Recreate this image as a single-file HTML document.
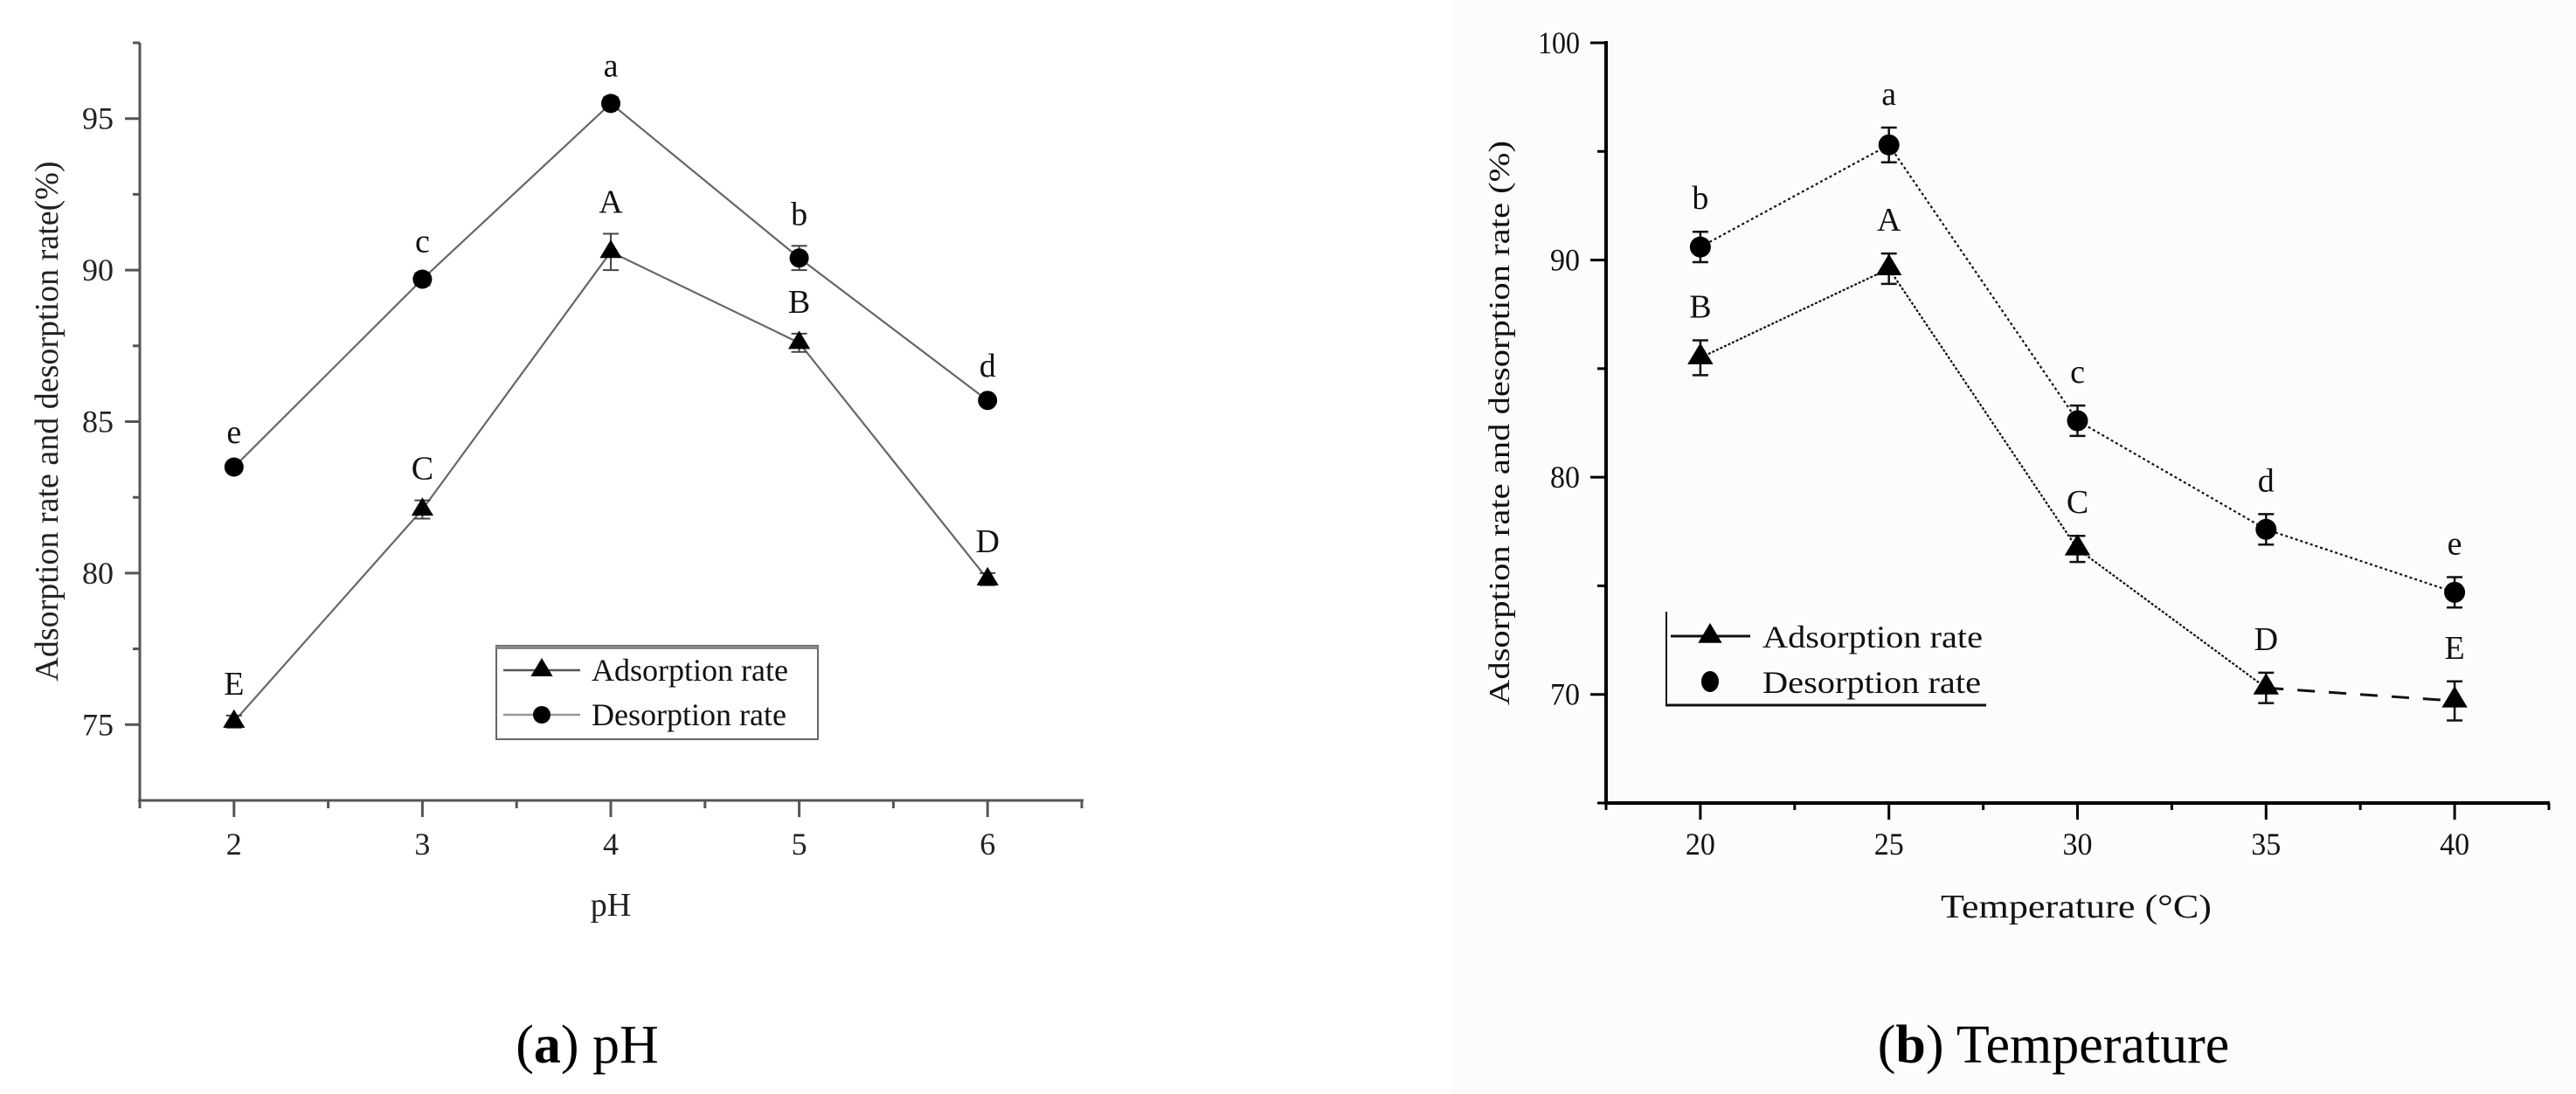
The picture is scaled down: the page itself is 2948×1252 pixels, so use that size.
<!DOCTYPE html>
<html><head><meta charset="utf-8"><style>
html,body{margin:0;padding:0;background:#fff;}
svg{display:block;font-family:"Liberation Serif",serif;}
</style></head><body>
<svg id="fig" width="2948" height="1252" viewBox="0 0 2948 1252" xmlns="http://www.w3.org/2000/svg">
<rect x="1660" y="0" width="1288" height="1252" fill="#fcfcfc"/>
<text x="672" y="1216" font-size="62" text-anchor="middle">(<tspan font-weight="bold">a</tspan>) pH</text>
<text x="2350" y="1216" font-size="62" text-anchor="middle">(<tspan font-weight="bold">b</tspan>) Temperature</text>
</svg>
<script>
// Panel A data (pH)
const phCategories = [2, 3, 4, 5, 6];
const phAdsorption = [75.1, 82.1, 90.6, 87.6, 79.8];
const phDesorption = [83.5, 89.7, 95.5, 90.4, 85.7];
const phAdsErr = [0.2, 0.3, 0.6, 0.3, 0.2];
const phDesErr = [0.1, 0.2, 0.2, 0.4, 0.1];
const phAdsLetters = ["E", "C", "A", "B", "D"];
const phDesLetters = ["e", "c", "a", "b", "d"];
const phYTicks = [75, 80, 85, 90, 95];
const phXTicks = [2, 3, 4, 5, 6];
// Panel B data (Temperature)
const tCategories = [20, 25, 30, 35, 40];
const tAdsorption = [85.5, 89.6, 76.7, 70.3, 69.7];
const tDesorption = [90.6, 95.3, 82.6, 77.6, 74.7];
const tAdsErr = [0.8, 0.7, 0.6, 0.7, 0.9];
const tDesErr = [0.7, 0.8, 0.7, 0.7, 0.7];
const tAdsLetters = ["B", "A", "C", "D", "E"];
const tDesLetters = ["b", "a", "c", "d", "e"];
const tYTicks = [70, 80, 90, 100];
const tXTicks = [20, 25, 30, 35, 40];

const NS = "http://www.w3.org/2000/svg";
const svg = document.getElementById('fig');
function mk(tag, attrs, parent) {
  const e = document.createElementNS(NS, tag);
  for (const k in attrs) e.setAttribute(k, attrs[k]);
  (parent || svg).appendChild(e);
  return e;
}
function lin(d0, d1, r0, r1) { return v => r0 + (v - d0) / (d1 - d0) * (r1 - r0); }
function tri(g, x, y, r, fill) {
  return mk('polygon', {points: `${x},${y - r} ${x - r * 1.05},${y + r * 0.75} ${x + r * 1.05},${y + r * 0.75}`, fill: fill}, g);
}

// ---------- Panel A ----------
(function () {
  const X = lin(1.5, 6.5, 160, 1238);
  const Y = lin(72.5, 97.5, 916, 49);
  const g = mk('g', {});
  
  
  const ax = mk('g', {stroke: '#555', 'stroke-width': 3}, g);
  
  
  mk('line', {x1: 160, y1: 49, x2: 160, y2: 918}, ax);
  mk('line', {x1: 158, y1: 916, x2: 1240, y2: 916}, ax);
  mk('line', {x1: 152, y1: 49, x2: 160, y2: 49}, ax);
  for (let v = 75; v <= 95; v += 2.5) {
    const major = phYTicks.includes(v);
    mk('line', {x1: major ? 143 : 152, y1: Y(v), x2: 160, y2: Y(v)}, ax);
  }
  for (const v of phYTicks) {
    const t = mk('text', {x: 130, y: Y(v) + 12, 'font-size': 36, 'text-anchor': 'end', fill: '#222'}, g);
    t.textContent = v;
    
    
  }
  for (let v = 1.5; v <= 6.5; v += 0.5) {
    const major = phXTicks.includes(v);
    mk('line', {x1: X(v), y1: 916, x2: X(v), y2: major ? 935 : 925}, ax);
  }
  for (const v of phXTicks) {
    const t = mk('text', {x: X(v), y: 978, 'font-size': 36, 'text-anchor': 'middle', fill: '#222'}, g);
    t.textContent = v;
    
    
  }
  const xt = mk('text', {x: 699, y: 1048, 'font-size': 38, 'text-anchor': 'middle', fill: '#222'}, g);
  xt.textContent = 'pH';
  
  
  const yt = mk('text', {x: 0, y: 0, 'font-size': 38, 'text-anchor': 'middle', fill: '#222', transform: 'translate(66,482) rotate(-90)'}, g);
  yt.textContent = 'Adsorption rate and desorption rate(%)';
  
  

  function series(vals, errs, letters, kind) {
    const sg = mk('g', {}, g);
    
    
    const pts = vals.map((v, i) => `${X(phCategories[i])},${Y(v)}`).join(' ');
    mk('polyline', {points: pts, fill: 'none', stroke: '#666', 'stroke-width': 2.2}, sg);
    vals.forEach((v, i) => {
      const x = X(phCategories[i]), y = Y(v);
      const e = errs[i];
      mk('path', {d: `M${x},${Y(v - e)}V${Y(v + e)}M${x - 9},${Y(v - e)}H${x + 9}M${x - 9},${Y(v + e)}H${x + 9}`, stroke: '#444', 'stroke-width': 2, fill: 'none'}, sg);
      let m;
      if (kind === 'tri') m = tri(sg, x, y - 2, 12, '#000');
      else m = mk('circle', {cx: x, cy: y, r: 11, fill: '#000'}, sg);
      
      
      const t = mk('text', {x: x, y: y - 24 - e * 34.7, 'font-size': 38, 'text-anchor': 'middle', fill: '#111'}, sg);
      t.textContent = letters[i];
      
      
    });
  }
  series(phDesorption, phDesErr, phDesLetters, 'circ');
  series(phAdsorption, phAdsErr, phAdsLetters, 'tri');

  const lg = mk('g', {}, g);
  
  
  mk('rect', {x: 568, y: 739, width: 368, height: 107, fill: '#fff', stroke: '#666', 'stroke-width': 2}, lg);
  mk('line', {x1: 568, y1: 741, x2: 936, y2: 741, stroke: '#888', 'stroke-width': 4}, lg);
  mk('line', {x1: 576, y1: 767, x2: 664, y2: 767, stroke: '#555', 'stroke-width': 2.5}, lg);
  tri(lg, 620, 765, 12, '#000');
  mk('line', {x1: 576, y1: 818, x2: 664, y2: 818, stroke: '#999', 'stroke-width': 2.5}, lg);
  mk('circle', {cx: 620, cy: 818, r: 10, fill: '#000'}, lg);
  const l1 = mk('text', {x: 677, y: 779, 'font-size': 36, fill: '#111'}, lg);
  l1.textContent = 'Adsorption rate';
  
  
  const l2 = mk('text', {x: 677, y: 830, 'font-size': 36, fill: '#111'}, lg);
  l2.textContent = 'Desorption rate';
  
  
})();

// ---------- Panel B ----------
(function () {
  const X = lin(17.5, 42.5, 1838, 2917);
  const Y = lin(65, 100, 919, 49);
  const g = mk('g', {});
  
  
  const ax = mk('g', {stroke: '#000', 'stroke-width': 4}, g);
  
  
  mk('line', {x1: 1838, y1: 47, x2: 1838, y2: 921}, ax);
  mk('line', {x1: 1836, y1: 919, x2: 2918, y2: 919}, ax);
  for (let v = 65; v <= 100; v += 5) {
    const major = tYTicks.includes(v);
    mk('line', {x1: major ? 1820 : 1828, y1: Y(v), x2: 1838, y2: Y(v), 'stroke-width': 3}, ax);
  }
  for (const v of tYTicks) {
    const t = mk('text', {x: 1808, y: Y(v) + 12, 'font-size': 36, 'text-anchor': 'end', fill: '#111', textLength: v >= 100 ? 48 : 34, lengthAdjust: 'spacingAndGlyphs'}, g);
    t.textContent = v;
    
    
  }
  for (let v = 17.5; v <= 42.5; v += 2.5) {
    const major = tXTicks.includes(v);
    mk('line', {x1: X(v), y1: 919, x2: X(v), y2: major ? 938 : 927, 'stroke-width': 3}, ax);
  }
  for (const v of tXTicks) {
    const t = mk('text', {x: X(v), y: 978, 'font-size': 36, 'text-anchor': 'middle', fill: '#111', textLength: 34, lengthAdjust: 'spacingAndGlyphs'}, g);
    t.textContent = v;
    
    
  }
  const xt = mk('text', {x: 2376, y: 1050, 'font-size': 38, 'text-anchor': 'middle', fill: '#111', textLength: 310, lengthAdjust: 'spacingAndGlyphs'}, g);
  xt.textContent = 'Temperature (°C)';
  
  
  const yt = mk('text', {x: 0, y: 0, 'font-size': 34, 'text-anchor': 'middle', fill: '#111', textLength: 646, lengthAdjust: 'spacingAndGlyphs', transform: 'translate(1727,484) rotate(-90)'}, g);
  yt.textContent = 'Adsorption rate and desorption rate (%)';
  
  

  function series(vals, errs, letters, kind) {
    const sg = mk('g', {}, g);
    
    
    const n = kind === 'tri' ? 4 : 5;
    const pts = vals.slice(0, n).map((v, i) => `${X(tCategories[i])},${Y(v)}`).join(' ');
    mk('polyline', {points: pts, fill: 'none', stroke: '#111', 'stroke-width': 2.2, 'stroke-dasharray': kind === 'tri' ? '3 2' : '3 3'}, sg);
    if (kind === 'tri') {
      mk('line', {x1: X(tCategories[3]), y1: Y(vals[3]), x2: X(tCategories[4]), y2: Y(vals[4]), stroke: '#111', 'stroke-width': 3, 'stroke-dasharray': '20 16'}, sg);
    }
    vals.forEach((v, i) => {
      const x = X(tCategories[i]), y = Y(v);
      const e = errs[i];
      mk('path', {d: `M${x},${Y(v - e)}V${Y(v + e)}M${x - 9},${Y(v - e)}H${x + 9}M${x - 9},${Y(v + e)}H${x + 9}`, stroke: '#111', 'stroke-width': 2.5, fill: 'none'}, sg);
      let m;
      if (kind === 'tri') m = tri(sg, x, y - 3, 14, '#000');
      else m = mk('circle', {cx: x, cy: y, r: 12, fill: '#000'}, sg);
      
      
      const t = mk('text', {x: x, y: y - 26 - e * 24.9, 'font-size': 38, 'text-anchor': 'middle', fill: '#111'}, sg);
      t.textContent = letters[i];
      
      
    });
  }
  series(tDesorption, tDesErr, tDesLetters, 'circ');
  series(tAdsorption, tAdsErr, tAdsLetters, 'tri');

  const lg = mk('g', {}, g);
  
  
  mk('line', {x1: 1907, y1: 700, x2: 1907, y2: 807, stroke: '#111', 'stroke-width': 2}, lg);
  mk('line', {x1: 1906, y1: 807, x2: 2273, y2: 807, stroke: '#111', 'stroke-width': 3}, lg);
  mk('line', {x1: 1912, y1: 728, x2: 2003, y2: 728, stroke: '#111', 'stroke-width': 3}, lg);
  tri(lg, 1957, 726, 13, '#000');
  mk('ellipse', {cx: 1957, cy: 780, rx: 10, ry: 12, fill: '#000'}, lg);
  const l1 = mk('text', {x: 2017, y: 741, 'font-size': 36, fill: '#111', textLength: 252, lengthAdjust: 'spacingAndGlyphs'}, lg);
  l1.textContent = 'Adsorption rate';
  
  
  const l2 = mk('text', {x: 2017, y: 793, 'font-size': 36, fill: '#111', textLength: 250, lengthAdjust: 'spacingAndGlyphs'}, lg);
  l2.textContent = 'Desorption rate';
  
  
})();
</script>
</body></html>
